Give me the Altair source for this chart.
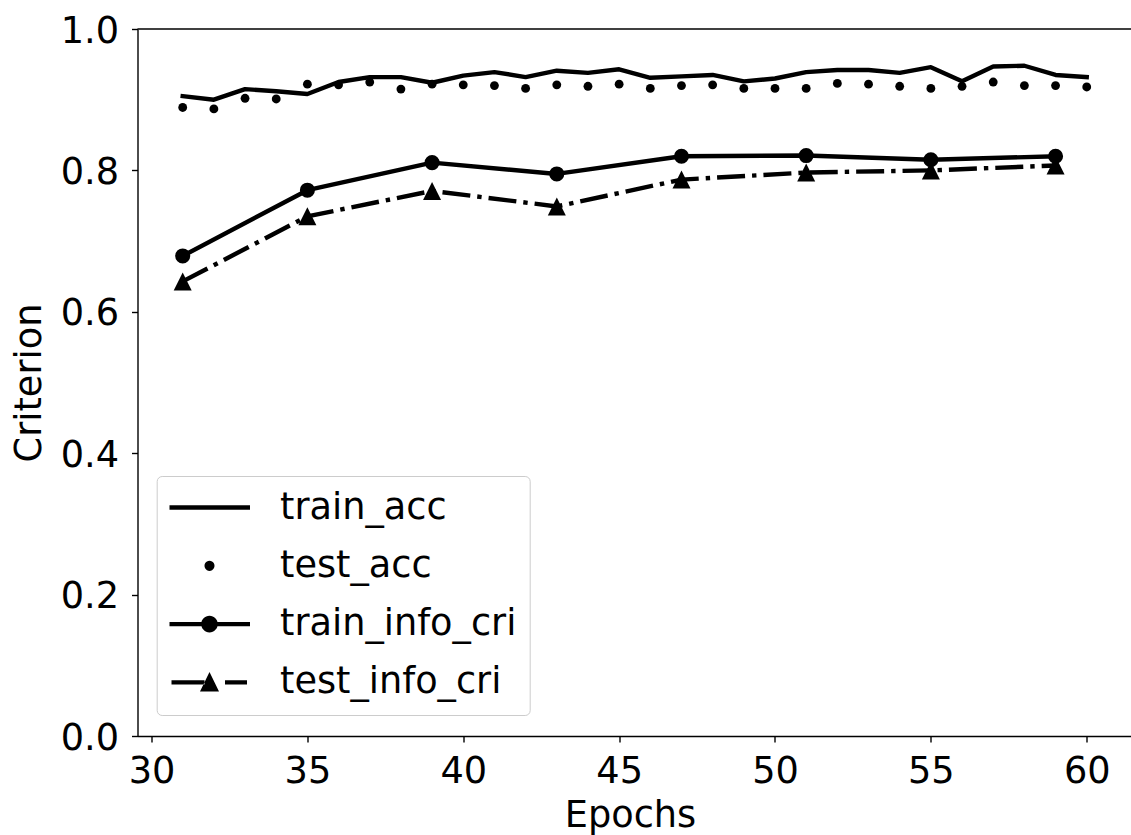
import altair as alt
import pandas as pd

# ---------------- data ----------------
epochs_acc = list(range(31, 61))
train_acc = [0.905, 0.900, 0.915, 0.912, 0.908, 0.925, 0.932, 0.932, 0.924, 0.934,
             0.939, 0.932, 0.941, 0.938, 0.943, 0.931, 0.933, 0.935, 0.926, 0.930,
             0.939, 0.942, 0.942, 0.938, 0.946, 0.926, 0.947, 0.948, 0.935, 0.932]
test_acc = [0.889, 0.887, 0.902, 0.901, 0.922, 0.921, 0.925, 0.915, 0.922, 0.921,
            0.920, 0.916, 0.921, 0.919, 0.922, 0.916, 0.920, 0.921, 0.916, 0.916,
            0.916, 0.923, 0.922, 0.919, 0.916, 0.919, 0.925, 0.920, 0.920, 0.918]
epochs_cri = [31, 35, 39, 43, 47, 51, 55, 59]
train_info_cri = [0.679, 0.772, 0.811, 0.795, 0.820, 0.821, 0.815, 0.820]
test_info_cri = [0.643, 0.735, 0.771, 0.749, 0.787, 0.797, 0.800, 0.807]

series_names = ["train_acc", "test_acc", "train_info_cri", "test_info_cri"]
x_ticks = [30, 35, 40, 45, 50, 55, 60]
y_ticks = [0.0, 0.2, 0.4, 0.6, 0.8, 1.0]

# ---------------- style ----------------
FONT = "DejaVu Sans"
FS = 36.7
LW = 4.4

df_acc = pd.DataFrame({"epoch": epochs_acc, "train_acc": train_acc, "test_acc": test_acc})
df_cri = pd.DataFrame({"epoch": epochs_cri, "train_info_cri": train_info_cri,
                       "test_info_cri": test_info_cri})
df_long = pd.concat([
    pd.DataFrame({"epoch": epochs_acc, "value": train_acc, "series": "train_acc"}),
    pd.DataFrame({"epoch": epochs_acc, "value": test_acc, "series": "test_acc"}),
    pd.DataFrame({"epoch": epochs_cri, "value": train_info_cri, "series": "train_info_cri"}),
    pd.DataFrame({"epoch": epochs_cri, "value": test_info_cri, "series": "test_info_cri"}),
], ignore_index=True)

x_scale = alt.Scale(domain=[29.55, 61.42], nice=False, zero=False)
y_scale = alt.Scale(domain=[0, 1], nice=False, zero=False)

x_axis = alt.Axis(values=x_ticks, format="d", title="Epochs", grid=False,
                  tickSize=6, labelPadding=11, titleX=492.5, titleY=90,
                  titleBaseline="alphabetic", titleAnchor="start", titleAlign="center")
y_axis = alt.Axis(values=y_ticks, format=".1f", title="Criterion", grid=False,
                  tickSize=6, labelPadding=13, labelOffset=2, titleX=-97.5, titleY=353.5,
                  titleBaseline="alphabetic", titleAngle=270, titleAlign="center",
                  titleAnchor="start")


def X():
    return alt.X("epoch:Q", scale=x_scale, axis=x_axis)


def Y(field):
    return alt.Y(f"{field}:Q", scale=y_scale, axis=y_axis)


base_acc = alt.Chart(df_acc)
base_cri = alt.Chart(df_cri)

train_acc_line = base_acc.mark_line(color="black", strokeWidth=LW, strokeJoin="round",
                                    strokeCap="square").encode(x=X(), y=Y("train_acc"))
test_acc_dots = base_acc.mark_circle(color="black", size=78, opacity=1).encode(
    x=X(), y=Y("test_acc"))

train_cri_line = base_cri.mark_line(color="black", strokeWidth=LW, strokeJoin="round",
                                    strokeCap="square").encode(x=X(), y=Y("train_info_cri"))
train_cri_pts = base_cri.mark_circle(color="black", size=227, opacity=1).encode(
    x=X(), y=Y("train_info_cri"))

test_cri_line = base_cri.mark_line(color="black", strokeWidth=LW, strokeJoin="round",
                                   strokeDash=[28, 7, 4.4, 7]).encode(x=X(), y=Y("test_info_cri"))
test_cri_pts = base_cri.mark_point(shape="M0,-1L-1,1L1,1Z", filled=True, color="black",
                                   size=324, opacity=1).encode(x=X(), y=Y("test_info_cri"))

# top spine drawn at the y-scale's maximum
top_spine = alt.Chart(pd.DataFrame({"top": [y_ticks[-1]]})).mark_rule(
    color="black", strokeWidth=1.4).encode(y=Y("top"))

# ---------------- legend: filled-path symbols through a shape scale ----------------
LEG_PAD = 13
SYM = 37.0                      # symbol box (px) -> symbolSize = SYM**2
UNIT = SYM / 2.0                # px per path unit
SHIFT = 21.3                    # px: move symbol drawing right of the default centre


def u(v):
    return f"{(v + SHIFT) / UNIT:.4f}"


def rect(x0, x1, half):
    return f"M{u(x0)},{-half / UNIT:.4f}L{u(x1)},{-half / UNIT:.4f}L{u(x1)},{half / UNIT:.4f}L{u(x0)},{half / UNIT:.4f}Z"


def circ(r):
    rr = f"{r / UNIT:.4f}"
    return f"M{u(-r)},0A{rr},{rr} 0 1,1 {u(r)},0A{rr},{rr} 0 1,1 {u(-r)},0Z"


def tri(hw, h_up, h_dn):
    return f"M{u(0)},{-h_up / UNIT:.4f}L{u(-hw)},{h_dn / UNIT:.4f}L{u(hw)},{h_dn / UNIT:.4f}Z"


half = LW / 2
legend_paths = [
    rect(-40, 40.5, half),
    circ(5),
    rect(-40, 40.5, half) + circ(8.3),
    rect(-38, -5, half) + rect(15.5, 37.5, half) + tri(9.5, 10.5, 9),
]

legend_layer = alt.Chart(df_long).transform_filter("false").mark_point(
    filled=True, color="black", opacity=1
).encode(
    x=X(), y=Y("value"),
    shape=alt.Shape("series:N", scale=alt.Scale(domain=series_names, range=legend_paths),
                    legend=alt.Legend(
                        title=None, orient="none", legendX=19.2, legendY=447,
                        padding=LEG_PAD, symbolSize=SYM * SYM, symbolStrokeWidth=0,
                        symbolFillColor="black", symbolOpacity=1,
                        labelFont=FONT, labelFontSize=FS,
                        labelColor="black", labelOffset=73.3, rowPadding=20.3,
                        labelLimit=0, labelExpr="datum.label + '\u00a0'",
                        strokeColor="#cccccc", fillColor="rgba(255,255,255,0.8)",
                        cornerRadius=5)),
)

chart = alt.layer(
    train_acc_line, test_acc_dots, train_cri_line, train_cri_pts,
    test_cri_line, test_cri_pts, legend_layer, top_spine
).properties(
    width=993.5, height=707,
    background="white",
    autosize=alt.AutoSizeParams(type="none"),
    padding={"left": 137.5, "top": 29, "right": 0, "bottom": 99},
).configure_view(stroke=None).configure_axis(
    labelFont=FONT, labelFontSize=FS, labelColor="black",
    titleFont=FONT, titleFontSize=FS, titleColor="black", titleFontWeight="normal",
    domainColor="black", domainWidth=1.4, tickColor="black", tickWidth=1.4,
)

chart.save("out.html", embed_options={"renderer": "svg", "actions": False})
